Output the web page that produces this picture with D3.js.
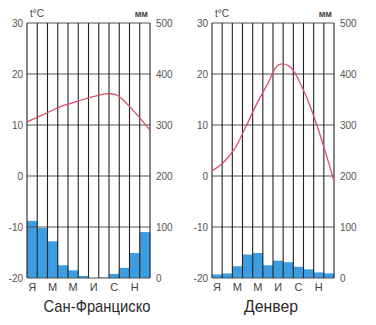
<!DOCTYPE html>
<html><head><meta charset="utf-8">
<script src="https://cdn.jsdelivr.net/npm/d3@7"></script>
<style>
html,body{margin:0;padding:0;background:#fff;}
svg{display:block;}
text{font-family:"Liberation Sans Narrow","Liberation Sans",Arial,sans-serif;fill:#555;}
</style></head>
<body>
<svg id="c" width="376" height="325"></svg>
<script>
const months = ["Я","Ф","М","А","М","И","И","А","С","О","Н","Д"];
const monthLabels = ["Я","","М","","М","","И","","С","","Н",""];
const tempTicks = [30,20,10,0,-10,-20];
const precTicks = [500,400,300,200,100,0];
const cityNames = ["Сан-Франциско","Денвер"];
const sfTemp = [10.6,11.6,12.6,13.6,14.3,15.0,15.6,16.1,15.9,14.0,11.6,9.0];
const sfPrec = [112,98,72,25,15,4,0,1,8,20,49,90];
const denTemp = [1.0,2.6,5.2,9.4,14.0,18.0,21.8,21.5,18.0,12.8,6.3,-1.0];
const denPrec = [7,9,23,46,49,25,34,31,22,17,11,9];

const svg = d3.select("#c");
const plotTop = 23, plotBottom = 278;
const charts = [
  {L:27, R:150, name:cityNames[0], temp:sfTemp, prec:sfPrec, cx:97, tw:107},
  {L:212, R:334, name:cityNames[1], temp:denTemp, prec:denPrec, cx:271, tw:54}
];
charts.forEach(c => {
  const g = svg.append("g");
  const yT = d3.scaleLinear().domain([-20,30]).range([plotBottom, plotTop]);
  const yP = d3.scaleLinear().domain([0,500]).range([plotBottom, plotTop]);
  const xB = d3.scaleBand().domain(d3.range(12)).range([c.L, c.R]).padding(0);
  const xP = d3.scalePoint().domain(d3.range(12)).range([c.L, c.R]).padding(0);
  // bars
  g.selectAll("rect.bar").data(c.prec).enter().append("rect")
    .attr("x", (d,i)=>xB(i)).attr("width", xB.bandwidth()+0.3)
    .attr("y", d=>yP(d)).attr("height", d=>plotBottom - yP(d))
    .attr("fill", "#3d9de2");
  // horizontal grid
  g.selectAll("line.h").data(tempTicks).enter().append("line")
    .attr("x1", c.L).attr("x2", c.R).attr("y1", d=>yT(d)).attr("y2", d=>yT(d))
    .attr("stroke", "#555").attr("stroke-width", 1.1);
  // vertical grid
  const bounds = d3.range(13).map(i => i<12 ? xB(i) : c.R);
  g.selectAll("line.v").data(bounds).enter().append("line")
    .attr("x1", d=>d).attr("x2", d=>d).attr("y1", plotTop).attr("y2", plotBottom)
    .attr("stroke", "#222").attr("stroke-width", 1.1);
  // temperature line
  const line = d3.line().x((d,i)=>xP(i)).y(d=>yT(d)).curve(d3.curveCatmullRom.alpha(0.5));
  g.append("path").datum(c.temp).attr("d", line)
    .attr("fill","none").attr("stroke","#d9506a").attr("stroke-width",1.3);
  // left axis labels
  g.selectAll("text.l").data(tempTicks).enter().append("text")
    .attr("x", c.L-4).attr("y", d=>yT(d)+3.5).attr("text-anchor","end")
    .attr("font-size", 10).text(d=>d);
  // right axis labels
  g.selectAll("text.r").data(precTicks).enter().append("text")
    .attr("x", c.R+6).attr("y", d=>yP(d)+3.5).attr("text-anchor","start")
    .attr("font-size", 10).text(d=>d);
  // month labels
  g.selectAll("text.m").data(monthLabels).enter().append("text")
    .attr("x", (d,i)=>xB(i)+xB.bandwidth()/2).attr("y", plotBottom+13)
    .attr("text-anchor","middle").attr("font-size", 11).style("fill","#444").text(d=>d);
  // headers
  g.append("text").attr("x", c.L+3).attr("y", 17).attr("font-size", 10).style("fill","#444").text("t°C");
  g.append("text").attr("x", c.R-2).attr("y", 17).attr("text-anchor","end").attr("font-size", 9).attr("font-weight","bold").style("fill","#444").text("мм");
  // title
  g.append("text").attr("x", c.cx).attr("y", 312)
    .attr("text-anchor","middle").attr("font-size", 17)
    .attr("textLength", c.tw).attr("lengthAdjust","spacingAndGlyphs")
    .style("fill","#2a2a2a").text(c.name);
});
</script>
</body></html>
